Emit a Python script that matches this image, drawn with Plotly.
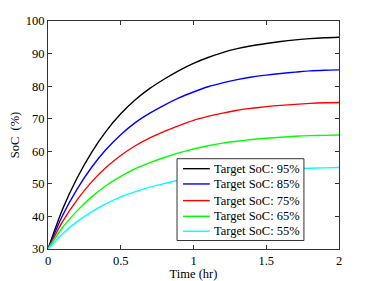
import plotly.graph_objects as go

time_hr = [0, 0.1, 0.2, 0.3, 0.4, 0.5, 0.6, 0.7, 0.8, 0.9, 1.0,
           1.1, 1.2, 1.3, 1.4, 1.5, 1.6, 1.7, 1.8, 1.9, 2.0]
soc_95 = [30, 42.2, 51.8, 59.7, 66.2, 71.5, 75.8, 79.3, 82.2, 84.8, 87.0,
          88.8, 90.3, 91.5, 92.4, 93.1, 93.7, 94.2, 94.6, 94.85, 95.0]
soc_85 = [30, 40.3, 48.4, 55.1, 60.6, 65.1, 68.8, 71.7, 74.2, 76.4, 78.2,
          79.8, 81.0, 82.0, 82.8, 83.4, 83.9, 84.3, 84.7, 84.9, 85.0]
soc_75 = [30, 38.4, 45.1, 50.6, 55.1, 58.7, 61.7, 64.1, 66.1, 67.9, 69.5,
          70.7, 71.7, 72.6, 73.2, 73.7, 74.1, 74.4, 74.7, 74.9, 75.0]
soc_65 = [30, 36.6, 41.7, 46.0, 49.5, 52.3, 54.7, 56.5, 58.1, 59.5, 60.7,
          61.7, 62.5, 63.1, 63.6, 64.0, 64.3, 64.6, 64.8, 64.9, 65.0]
soc_55 = [30, 34.7, 38.4, 41.4, 43.9, 46.0, 47.6, 49.0, 50.1, 51.1, 51.9,
          52.6, 53.2, 53.7, 54.0, 54.3, 54.5, 54.7, 54.8, 54.9, 55.0]

series_names = ["Target SoC: 95%", "Target SoC: 85%", "Target SoC: 75%",
                "Target SoC: 65%", "Target SoC: 55%"]
series_values = [soc_95, soc_85, soc_75, soc_65, soc_55]
series_colors = ["#000000", "#0000ff", "#ff0000", "#00ff00", "#00ffff"]

x_ticks = [0, 0.5, 1, 1.5, 2]
x_tick_labels = ["0", "0.5", "1", "1.5", "2"]
y_ticks = [30, 40, 50, 60, 70, 80, 90, 100]

font_family = "Liberation Serif"
axis_color = "#333333"

fig = go.Figure()
for name, vals, col in zip(series_names, series_values, series_colors):
    fig.add_trace(go.Scatter(x=time_hr, y=vals, mode="lines", name=name,
                             line=dict(color=col, width=1.4, shape="spline", smoothing=0.8)))

# Custom legend box (MATLAB-style compact legend)
leg_x0, leg_x1, leg_y0, leg_y1 = 0.4434, 0.8795, 0.0372, 0.396
entry_y = [0.3523, 0.2853, 0.2123, 0.1435, 0.0779]
sample_x0, sample_x1, text_x = 0.464, 0.556, 0.563

shapes = [dict(type="rect", xref="paper", yref="paper", x0=leg_x0, x1=leg_x1,
               y0=leg_y0, y1=leg_y1, fillcolor="white",
               line=dict(color=axis_color, width=1), layer="above")]
annotations = []
for name, col, ey in zip(series_names, series_colors, entry_y):
    shapes.append(dict(type="line", xref="paper", yref="paper", x0=sample_x0, x1=sample_x1,
                       y0=ey, y1=ey, line=dict(color=col, width=1.4), layer="above"))
    annotations.append(dict(xref="paper", yref="paper", x=text_x, y=ey, text=name,
                            showarrow=False, xanchor="left", yanchor="middle",
                            font=dict(family=font_family, size=12.5, color="black")))

axis_common = dict(showline=True, linecolor=axis_color, linewidth=1, mirror="ticks",
                   ticks="inside", ticklen=4, tickcolor=axis_color, showgrid=False,
                   zeroline=False, automargin=False,
                   tickfont=dict(family=font_family, size=12.5, color="black"))

fig.update_layout(
    width=366, height=273,
    margin=dict(l=40, r=35, t=13, b=31.5),
    paper_bgcolor="white", plot_bgcolor="white",
    font=dict(family=font_family, size=12.5, color="black"),
    showlegend=False,
    shapes=shapes,
    annotations=annotations,
    xaxis=dict(range=[0, 2], tickvals=x_ticks, ticktext=x_tick_labels,
               title=dict(text="Time (hr)", standoff=0,
                          font=dict(family=font_family, size=12.5)),
               **axis_common),
    yaxis=dict(range=[30, 100], tickvals=y_ticks,
               title=dict(text="SoC  (%)", standoff=3,
                          font=dict(family=font_family, size=12.5)),
               **axis_common),
)

fig.write_html("out.html")
